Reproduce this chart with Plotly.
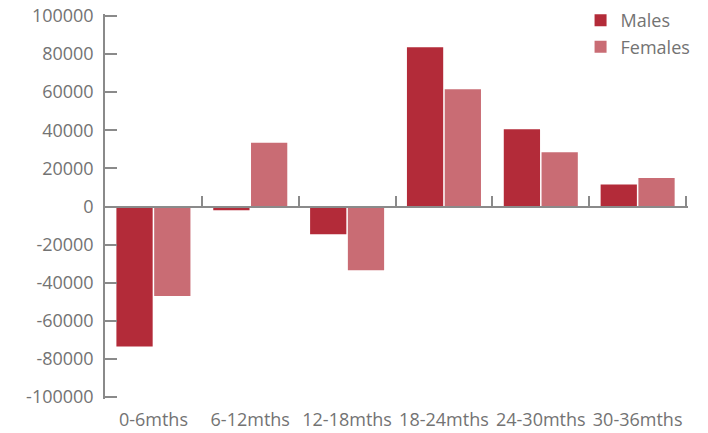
import plotly.graph_objects as go

categories = ["0-6mths", "6-12mths", "12-18mths", "18-24mths", "24-30mths", "30-36mths"]
males = [-73500, -2000, -14500, 83500, 40500, 11500]
females = [-47000, 33500, -33500, 61500, 28500, 15000]
ytick_vals = [100000, 80000, 60000, 40000, 20000, 0, -20000, -40000, -60000, -80000, -100000]
ytick_text = ["100000", "80000", "60000", "40000", "20000", "0", "-20000", "-40000", "-60000", "-80000", "-100000"]

male_color = "#B32B39"
female_color = "#C96C74"
axis_color = "#8a8a8a"
text_color = "#737373"
font_family = "Open Sans"

fig = go.Figure()
fig.add_trace(go.Bar(x=categories, y=males, name="Males", marker=dict(color=male_color, line=dict(width=0))))
fig.add_trace(go.Bar(x=categories, y=females, name="Females", marker=dict(color=female_color, line=dict(width=0))))
# helper trace for zero-line axis with boundary ticks
fig.add_trace(go.Scatter(x=categories, y=[None] * len(categories), xaxis="x2", showlegend=False,
                         hoverinfo="skip", mode="markers"))

xrange = [-0.5, len(categories) - 0.48]

fig.update_layout(
    width=708, height=433,
    margin=dict(l=105, r=20, t=14, b=34, autoexpand=False),
    paper_bgcolor="white", plot_bgcolor="white",
    font=dict(family=font_family, size=18, color=text_color),
    barmode="group", bargap=0.22, bargroupgap=0.04,
    showlegend=True,
    legend=dict(xref="container", yref="container", x=0.82, y=0.995, xanchor="left", yanchor="top",
                bgcolor="rgba(0,0,0,0)", font=dict(size=18, color=text_color),
                tracegroupgap=0, itemwidth=30),
    xaxis=dict(type="category", categoryorder="array", categoryarray=categories, range=xrange,
               showline=False, showgrid=False, zeroline=False, ticks="",
               tickfont=dict(size=18, color=text_color), automargin=False, ticklabelstandoff=8),
    xaxis2=dict(type="category", categoryorder="array", categoryarray=categories, range=xrange,
                overlaying="x", anchor="free", position=0.5,
                side="bottom", showline=True, linecolor=axis_color, linewidth=1.5,
                ticks="inside", tickson="boundaries", ticklen=10, tickwidth=1.5, tickcolor=axis_color,
                showticklabels=False, showgrid=False, zeroline=False),
    yaxis=dict(range=[-101000, 101000], tickvals=ytick_vals, ticktext=ytick_text,
               showline=True, linecolor=axis_color, linewidth=1.5,
               ticks="inside", ticklen=12, tickwidth=1.5, tickcolor=axis_color,
               showgrid=False, zeroline=False, tickfont=dict(size=18, color=text_color),
               automargin=False, ticklabelstandoff=6),
)

fig.write_html("out.html")
